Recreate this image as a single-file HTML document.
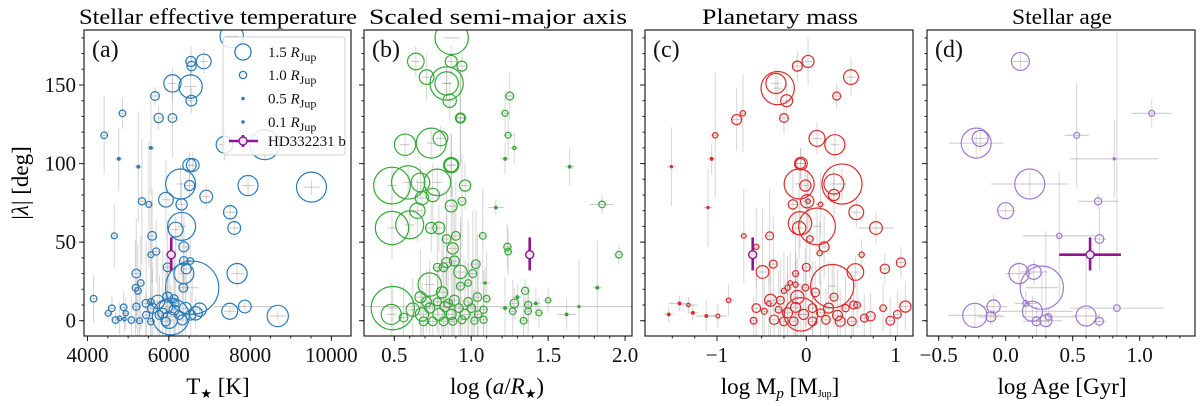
<!DOCTYPE html>
<html><head><meta charset="utf-8">
<style>
html,body{margin:0;padding:0;background:#fff;width:1200px;height:406px;overflow:hidden;}
svg{display:block;font-family:"Liberation Serif",serif;}
</style></head>
<body>
<svg id="chart" xmlns="http://www.w3.org/2000/svg" width="1200" height="406" viewBox="0 0 1200 406">
<defs>
<clipPath id="clipA"><rect x="84" y="30" width="267" height="306"/></clipPath>
<clipPath id="clipB"><rect x="364" y="30" width="268" height="306"/></clipPath>
<clipPath id="clipC"><rect x="645" y="30" width="268" height="306"/></clipPath>
<clipPath id="clipD"><rect x="927" y="30" width="268" height="306"/></clipPath>
</defs>
<text x="218" y="24" font-size="22" text-anchor="middle" textLength="278" lengthAdjust="spacingAndGlyphs">Stellar effective temperature</text>
<text x="498" y="24" font-size="22" text-anchor="middle" textLength="258" lengthAdjust="spacingAndGlyphs">Scaled semi-major axis</text>
<text x="780" y="24" font-size="22" text-anchor="middle" textLength="156" lengthAdjust="spacingAndGlyphs">Planetary mass</text>
<text x="1062" y="24" font-size="22" text-anchor="middle" textLength="100" lengthAdjust="spacingAndGlyphs">Stellar age</text>
<text transform="translate(28,183) rotate(-90)" font-size="23" text-anchor="middle">|<tspan font-style="italic">λ</tspan>| [deg]</text>
<text x="218" y="394" font-size="23" text-anchor="middle">T<tspan font-size="13" dy="4">★</tspan><tspan dy="-4"> [K]</tspan></text>
<text x="497" y="394" font-size="23" text-anchor="middle">log (<tspan font-style="italic">a</tspan>/<tspan font-style="italic">R</tspan><tspan font-size="13" dy="4">★</tspan><tspan dy="-4">)</tspan></text>
<text x="780" y="394" font-size="23" text-anchor="middle">log M<tspan font-size="15" dy="4" font-style="italic">p</tspan><tspan dy="-4"> [M</tspan><tspan font-size="10" dy="3">Jup</tspan><tspan dy="-3">]</tspan></text>
<text x="1062" y="394" font-size="23" text-anchor="middle">log Age [Gyr]</text>
<g id="layer"></g>
</svg>
<script>
// ---------- shared ----------
const yTicks = [0, 50, 100, 150];
const yMinor = [-10, 0, 10, 20, 30, 40, 50, 60, 70, 80, 90, 100, 110, 120, 130, 140, 150, 160, 170, 180];
const legendRadii = [1.5, 1.0, 0.5, 0.1];
const legendLabels = ["1.5", "1.0", "0.5", "0.1"];

// ---------- panel a: Teff ----------
const aTeff = [7548,6543,6860,6560,6090,6535,6555,5660,5750,6090,4860,4410,4770,5250,5560,7370,8360,6510,6590,6290,6510,7950,9510,5930,6920,6315,5340,5510,7510,7610,6315,6170,4660,5590,5690,5560,6370,5970,6370,6530,6430,6575,6370,7680,5200,5310,5180,5240,6360,4150,7500,7870,8680,6760,4510,4600,4690,4890,4940,5080,5200,5280,5440,5560,5600,5730,5850,5930,6010,6050,6130,6170,6250,6330,6410,6540,6660,5970,6130,5770,5930,5560,5440,4790,4910];
const aLam = [181,165,165,162,151,149,140,143,129,129,132,118,103,98,110,112,112,99,99,87,86,86,85,77,79,74,76,74,69,59,60,58,54,54,44,42,47,34,38,38,33,21,30,30,30,24,21,19,21,14,6,9,3,7,4.7,7.9,0.4,8.5,4.7,0.4,8.9,0,3.6,-0.6,7.9,12,4.7,8.9,0.4,2.6,6.8,11,3.6,0.4,7.9,3.6,4.7,15,14,3.6,-0.6,12,11,1.5,1];
const aRp = [1.8,1.18,1.43,1.14,1.55,1.8,1.22,1.1,1.14,1.1,0.96,0.96,0.61,0.61,0.61,1.52,2.04,1.36,1.33,2.04,1.18,1.67,2.04,1.43,1.33,1.25,1.0,0.91,1.36,1.33,1.97,1.43,0.91,1.1,1.0,0.91,1.18,1.1,1.1,0.96,1.18,2.72,1.67,1.67,1.1,0.96,0.96,0.96,1.1,0.96,1.49,1.33,1.72,1.36,0.91,0.96,0.96,0.96,0.86,0.96,1.0,0.91,1.0,0.96,1.18,1.36,1.18,1.36,1.52,2.26,1.18,0.96,1.1,1.18,1.29,1.18,1.36,1.18,1.05,1.1,1.1,0.96,1.05,0.8,0.68];
const aLamErr = [0,10,8,6,10,12,8,6,8,25,10,25,20,35,30,10,10,8,8,12,8,6,5,25,8,15,40,40,6,6,10,8,20,30,20,35,20,30,15,15,15,10,10,8,35,30,30,30,20,15,3,3,3,5,5,8,5,10,10,15,10,20,15,20,25,30,40,35,40,20,30,40,35,30,20,15,10,20,30,25,30,40,40,10,8];
const aTeffErr = [150,100,100,100,100,150,100,100,100,100,100,100,100,100,100,150,150,100,100,100,100,150,200,100,100,100,100,100,150,150,100,100,100,100,100,100,100,100,100,100,100,150,100,150,100,100,100,100,100,100,150,750,200,100,100,100,100,100,100,100,100,100,100,100,100,100,100,100,100,100,100,100,100,100,100,100,100,100,100,100,100,100,100,100,100];
const aXTicks = [4000, 6000, 8000, 10000];
const aXMinor = [4000,4500,5000,5500,6000,6500,7000,7500,8000,8500,9000,9500,10000];

// ---------- panel b: log(a/R*) ----------
const bLogA = [0.873,0.64,0.87,0.94,0.71,0.84,0.84,0.86,0.93,0.93,1.22,1.25,1.24,1.28,1.22,1.64,0.57,0.74,0.80,0.87,0.87,0.485,0.59,0.67,0.78,0.96,0.68,0.75,0.87,0.94,0.65,1.16,0.485,0.60,0.74,0.79,0.84,0.90,0.88,1.075,1.235,1.24,1.85,1.96,1.09,1.35,1.30,1.50,1.42,1.37,1.28,1.27,1.34,1.37,1.44,1.22,1.62,1.70,1.82,0.73,0.84,0.89,0.82,0.78,0.93,1.03,1.01,0.98,0.93,0.81,0.67,1.04,1.10,0.49,0.48,0.56,0.62,0.68,0.73,0.79,0.83,0.87,0.92,0.96,1.0,1.045,1.08,1.08,0.69,0.75,0.82,0.88,0.94,1.02,0.71,0.78,0.85,0.89,0.98];
const bLam = [180,165,165,162,155,151,151,140,129,129,132,143,118,110,103,98,112,113,116,99,99,86,88,88,88,86,78,80,73,76,70,72,59,61,59,59,52,54,46,54,47,44,74,42,24,19,15,13,11,10,11,6,0,6,5,8,4,9,21,23,37,38,34,34,31,36,30,24,22,18,15,15,14,8,4,2,7,4,8,4,9,4,8,4,8,4,7,0.6,-0.4,-0.4,-0.4,-0.4,0.6,0,12,12,11,13,12];
const bRp = [2.15,1.52,1.29,1.18,1.43,1.8,2.15,1.36,1.18,1.1,0.91,1.05,0.91,0.68,0.61,0.61,1.72,2.04,1.43,1.46,1.36,2.26,2.15,1.61,1.92,1.25,1.36,1.36,1.29,1.05,1.46,0.61,2.15,1.97,1.25,1.29,1.1,1.1,1.25,0.96,1.0,0.96,0.96,0.96,0.53,1.0,0.61,0.86,0.61,1.0,1.1,0.96,0.96,0.96,0.91,0.61,0.61,0.53,0.61,1.8,1.18,1.18,1.1,1.05,1.36,1.1,1.05,0.96,1.05,1.25,1.25,1.1,0.96,2.45,1.67,1.1,1.36,1.36,1.18,1.29,1.18,1.18,1.1,1.18,1.1,1.0,1.0,1.0,1.1,1.1,1.1,1.05,1.05,1.0,1.18,1.05,1.1,1.18,1.1];
const bLamErr = [0,10,10,8,15,10,10,12,30,30,15,15,15,10,10,12,10,10,8,20,20,12,10,10,10,15,10,20,35,30,20,5,20,10,15,15,30,35,40,30,15,15,6,6,10,8,8,8,10,12,10,20,15,15,10,20,10,30,30,15,30,40,30,30,35,35,40,40,40,35,30,40,30,15,20,20,20,20,25,30,25,30,30,35,30,35,25,20,15,15,15,15,15,20,20,20,25,25,25];
const bLogAErr = [0.05,0.03,0.03,0.03,0.03,0.03,0.03,0.03,0.03,0.03,0.03,0.03,0.03,0.03,0.03,0.03,0.03,0.03,0.03,0.03,0.03,0.03,0.03,0.03,0.03,0.03,0.03,0.03,0.03,0.03,0.03,0.05,0.03,0.03,0.03,0.03,0.03,0.03,0.03,0.03,0.03,0.03,0.08,0.03,0.03,0.03,0.03,0.03,0.03,0.03,0.03,0.03,0.03,0.03,0.03,0.03,0.06,2.0,0.03,0.03,0.03,0.03,0.03,0.03,0.03,0.03,0.03,0.03,0.03,0.03,0.03,0.03,0.03,0.03,0.03,0.03,0.03,0.03,0.03,0.03,0.03,0.03,0.03,0.03,0.03,0.03,0.03,0.03,0.03,0.03,0.03,0.03,0.03,0.03,0.03,0.03,0.03,0.03,0.03];
const bXTicks = [0.5, 1.0, 1.5, 2.0];
const bXLabels = ["0.5", "1.0", "1.5", "2.0"];
const bXMinor = [0.5,0.6,0.7,0.8,0.9,1.0,1.1,1.2,1.3,1.4,1.5,1.6,1.7,1.8,1.9,2.0];

// ---------- panel c: log Mp ----------
const cLogM = [0.02,-0.10,0.50,0.34,-0.34,-0.32,-0.22,-0.25,-0.78,-0.71,-1.02,-1.06,-1.51,-1.10,0.12,0.32,-0.06,-0.065,-0.08,0.40,0.31,-0.01,0.01,0.02,-0.15,0.16,0.31,0.56,0.78,-0.07,0.12,-0.08,0.04,0.20,0.15,-0.70,-0.41,-0.56,0.62,1.06,0.88,0.55,-0.37,-0.49,-0.12,0.0,0.29,-0.12,-0.21,-0.25,-0.18,-0.01,0.10,0.31,-0.40,-0.29,-0.42,-0.10,-0.56,-0.47,-0.31,-0.21,-0.12,-0.03,0.07,0.16,0.25,0.35,0.44,0.53,-0.06,-0.59,-0.36,-0.25,-0.14,0.07,0.22,0.38,0.51,0.72,0.86,0.94,1.02,1.11,0.57,0.65,-1.54,-1.42,-1.32,-1.27,-1.12,-0.99,-0.87];
const cLam = [165,162,155,143,151,148,140,129,128,132,118,103,98,72,116,112,100,100,87,87,87,86,76,76,74,74,80,69,59,62,60,59,52,47,43,54,54,47,42,37,33,31,36,31,30,34,22,23,21,19,24,21,18,15,13,13,11,15,8,6,7,5,8.5,4,8,5,8,3.4,8,10,4,0,0.6,-0.4,-0.4,-0.4,0.6,-0.4,-0.4,2.8,8,0,4,9,10,1.7,4,11,10,5,3,3,13];
const cRp = [1.29,1.18,1.43,1.05,1.67,2.15,1.29,1.1,1.18,0.86,0.86,0.61,0.53,0.53,1.49,1.67,1.33,1.18,2.04,2.36,1.67,1.25,1.36,0.8,1.14,0.8,1.25,1.43,1.33,1.8,2.26,1.36,0.96,1.18,0.86,0.8,1.05,0.86,0.86,1.14,1.14,1.52,1.05,1.33,0.91,1.05,2.45,0.86,0.86,0.86,0.8,0.96,1.1,1.05,1.29,1.05,0.8,1.36,1.1,0.91,0.96,1.18,1.18,1.18,1.1,1.05,1.18,1.18,1.0,1.05,2.15,0.96,1.14,1.1,1.1,1.1,1.1,1.18,1.1,1.14,0.96,1.1,1.05,1.25,0.96,1.05,0.61,0.61,0.68,0.61,0.61,0.75,0.8];
const cLamErr = [15,10,12,8,10,10,10,10,20,25,40,10,25,25,10,10,10,10,10,10,10,15,20,20,20,20,15,10,10,15,15,20,25,20,20,30,30,25,10,10,10,10,30,40,40,40,15,20,20,25,20,25,20,20,25,25,25,25,20,20,25,25,30,30,30,30,30,30,20,20,20,15,15,20,20,20,20,20,15,15,15,15,15,15,15,15,5,5,5,5,10,8,10];
const cLogMErr = [0.05,0.05,0.05,0.05,0.05,0.05,0.05,0.05,0.05,0.05,0.05,0.05,0.05,0.05,0.05,0.05,0.05,0.05,0.05,0.05,0.05,0.05,0.05,0.05,0.05,0.05,0.05,0.05,0.2,0.05,0.05,0.05,0.05,0.05,0.05,0.05,0.05,0.05,0.05,0.05,0.05,0.05,0.05,0.05,0.05,0.05,0.05,0.05,0.05,0.05,0.05,0.05,0.05,0.05,0.05,0.05,0.05,0.05,0.05,0.05,0.05,0.05,0.05,0.05,0.05,0.05,0.05,0.05,0.05,0.05,0.05,0.05,0.05,0.05,0.05,0.05,0.05,0.05,0.05,0.05,0.05,0.05,0.05,0.05,0.05,0.05,0.05,0.12,0.1,0.06,0.12,0.1,0.05,0.05];
const cXTicks = [-1, 0, 1];
const cXLabels = ["\u22121", "0", "1"];
const cXMinor = [-1.5,-1.25,-1,-0.75,-0.5,-0.25,0,0.25,0.5,0.75,1];

// ---------- panel d: log Age ----------
const dLogAge = [0.11,-0.22,-0.19,0.53,1.09,0.81,0.18,0.0,0.69,0.40,0.70,0.10,0.21,0.27,0.15,-0.09,-0.11,-0.23,0.20,0.23,0.30,0.32,0.60,0.70,0.83];
const dLam = [165,113,116,118,132,103,87,70,76,54,52,30,31,21,11,9,2.5,3.4,6,-0.4,0,2.5,3,-0.4,8];
const dRp = [1.58,2.04,1.49,0.91,0.91,0.53,2.04,1.49,1.0,0.86,1.1,1.67,1.43,2.45,0.91,1.36,1.18,1.83,1.67,1.1,1.29,0.96,1.67,1.05,0.96];
const dLamErr = [5,8,8,33,9,25,8,5,5,40,20,8,8,10,8,8,5,8,10,10,57,5,40,5,180];
const dAgeErr = [0.06,0.2,0.05,0.09,0.15,0.33,0.29,0.07,0.15,0.27,0.05,0.1,0.1,0.12,0.08,0.1,0.1,0.2,0.3,0.1,0.12,0.2,0.1,0.05,0.35];
const dXTicks = [-0.5, 0.0, 0.5, 1.0];
const dXLabels = ["\u22120.5", "0.0", "0.5", "1.0"];
const dXMinor = [-0.5,-0.4,-0.3,-0.2,-0.1,0,0.1,0.2,0.3,0.4,0.5,0.6,0.7,0.8,0.9,1.0,1.1,1.2,1.3];

// ---------- HD332231 b ----------
const hdTeff = 6060, hdTeffErr = 60;
const hdLogA = 1.38;
const hdLogM = -0.60;
const hdLogAge = 0.63, hdLogAgeErr = 0.23;
const hdLam = 42, hdLamErrLo = 10, hdLamErrHi = 11;

// ---------- axes ----------
const Y0 = 30, Y1 = 336, LMAX = 185.0, LMIN = -9.74;
function yS(v){ return Y0 + (LMAX - v) / (LMAX - LMIN) * (Y1 - Y0); }
function lin(x0, x1, d0, d1){ return v => x0 + (v - d0) / (d1 - d0) * (x1 - x0); }
const xA = lin(84, 351, 3914, 10482);
const xB = lin(364, 632, 0.303, 2.045);
const xC = lin(645, 913, -1.806, 1.195);
const xD = lin(927, 1195, -0.587, 1.413);
function rPx(rp){ return Math.max(1.1, 3.6 * rp * rp); }

const NS = "http://www.w3.org/2000/svg";
const layer = document.getElementById('layer');
function mk(tag, attrs, parent){
  const e = document.createElementNS(NS, tag);
  for (const k in attrs) e.setAttribute(k, attrs[k]);
  (parent || layer).appendChild(e);
  return e;
}

function drawPanel(id, x0, x1, xs, xv, lam, rp, lamErr, xErr, color, clip, ticks, labels, minor, hdX, hdXErr, showY){
  const g = mk('g', {});
  
  
  const pg = mk('g', {'clip-path': 'url(#' + clip + ')'}, g);
  const eg = mk('g', {stroke: '#a0a0a0', 'stroke-opacity': '0.4', 'stroke-width': '1.1'}, pg);
  
  
  for (let i = 0; i < xv.length; i++){
    const cx = xs(xv[i]), cy = yS(lam[i]);
    if (lamErr[i] > 0){
      const l = mk('line', {x1: cx, x2: cx, y1: yS(lam[i] + lamErr[i]), y2: yS(lam[i] - lamErr[i])}, eg);
      
      
    }
    if (xErr && xErr[i] > 0){
      const l = mk('line', {x1: xs(xv[i] - xErr[i]), x2: xs(xv[i] + xErr[i]), y1: cy, y2: cy, 'stroke-opacity': '0.55'}, eg);
      
      
    }
  }
  const cg = mk('g', {fill: 'none', stroke: color, 'stroke-width': '1.2'}, pg);
  for (let i = 0; i < xv.length; i++){
    const r = rPx(rp[i]);
    const c = mk('circle', {cx: xs(xv[i]), cy: yS(lam[i]), r: r, fill: r < 1.6 ? color : 'none'}, cg);
    
    
  }
  const hx = xs(hdX);
  const hg = mk('g', {stroke: '#8e1691', 'stroke-width': '2.6'}, pg);
  
  
  mk('line', {x1: hx, x2: hx, y1: yS(hdLam + hdLamErrHi), y2: yS(hdLam - hdLamErrLo)}, hg);
  if (hdXErr) mk('line', {x1: xs(hdX - hdXErr), x2: xs(hdX + hdXErr), y1: yS(hdLam), y2: yS(hdLam)}, hg);
  mk('circle', {cx: hx, cy: yS(hdLam), r: 4, fill: '#f3e3f3', 'stroke-width': '1.4'}, hg);
  const fr = mk('rect', {x: x0, y: Y0, width: x1 - x0, height: Y1 - Y0, fill: 'none', stroke: '#222', 'stroke-width': '1.2'}, g);
  
  
  const tg = mk('g', {stroke: '#222', 'stroke-width': '1'}, g);
  for (const v of yMinor){ const y = yS(v); if (y > Y0 && y < Y1) mk('line', {x1: x0 - 2.5, x2: x0, y1: y, y2: y}, tg); }
  for (const v of yTicks){ const y = yS(v); mk('line', {x1: x0 - 5, x2: x0, y1: y, y2: y}, tg);
    if (showY){ const t = mk('text', {x: x0 - 8, y: y + 7, 'font-size': '21', 'text-anchor': 'end', stroke: 'none', fill: '#111'}, g); t.textContent = String(v);
        } }
  for (const v of minor){ const x = xs(v); if (x > x0 && x < x1) mk('line', {x1: x, x2: x, y1: Y1, y2: Y1 + 2.5}, tg); }
  ticks.forEach((v, i) => { const x = xs(v); mk('line', {x1: x, x2: x, y1: Y1, y2: Y1 + 5}, tg);
    const t = mk('text', {x: x, y: 362, 'font-size': '21', 'text-anchor': 'middle', stroke: 'none', fill: '#111'}, g);
    t.textContent = labels[i];
    
     });
  const tag = mk('text', {x: x0 + 8, y: Y0 + 27, 'font-size': '24', fill: '#111'}, g);
  tag.textContent = '(' + id + ')';
  
  
}

drawPanel('a', 84, 351, xA, aTeff, aLam, aRp, aLamErr, aTeffErr, '#2a7ab9', 'clipA', aXTicks, aXTicks.map(String), aXMinor, hdTeff, hdTeffErr, true);
drawPanel('b', 364, 632, xB, bLogA, bLam, bRp, bLamErr, bLogAErr, '#35a835', 'clipB', bXTicks, bXLabels, bXMinor, hdLogA, 0, false);
drawPanel('c', 645, 913, xC, cLogM, cLam, cRp, cLamErr, cLogMErr, '#dc2a2a', 'clipC', cXTicks, cXLabels, cXMinor, hdLogM, 0, false);
drawPanel('d', 927, 1195, xD, dLogAge, dLam, dRp, dLamErr, dAgeErr, '#9f78d4', 'clipD', dXTicks, dXLabels, dXMinor, hdLogAge, hdLogAgeErr, false);

const lg = mk('g', {});


mk('rect', {x: 223, y: 37, width: 122, height: 118, rx: 3, fill: '#fff', 'fill-opacity': '0.82', stroke: '#cfcfcf', 'stroke-width': '1'}, lg);
const legYs = [52, 75, 98.5, 122];
legendRadii.forEach((R, i) => {
  const e = mk('g', {}, lg);
  
  
  const r = rPx(R);
  mk('circle', {cx: 243, cy: legYs[i], r: r, fill: r < 1.6 ? '#2a7ab9' : 'none', stroke: '#2a7ab9', 'stroke-width': '1.3'}, e);
  const t = mk('text', {x: 268, y: legYs[i] + 5, 'font-size': '15', fill: '#111'}, e);
  t.innerHTML = legendLabels[i] + ' <tspan font-style="italic">R</tspan><tspan font-size="12" dy="4">Jup</tspan>';
});
const he = mk('g', {stroke: '#8e1691', 'stroke-width': '2.4'}, lg);


mk('line', {x1: 229, x2: 258, y1: 141, y2: 141}, he);
mk('line', {x1: 243, x2: 243, y1: 135, y2: 147}, he);
mk('circle', {cx: 243, cy: 141, r: 4, fill: '#f3e3f3', 'stroke-width': '1.4'}, he);
const ht = mk('text', {x: 268, y: 146, 'font-size': '15', fill: '#111', stroke: 'none'}, he);
ht.textContent = 'HD332231 b';
</script>
</body></html>
